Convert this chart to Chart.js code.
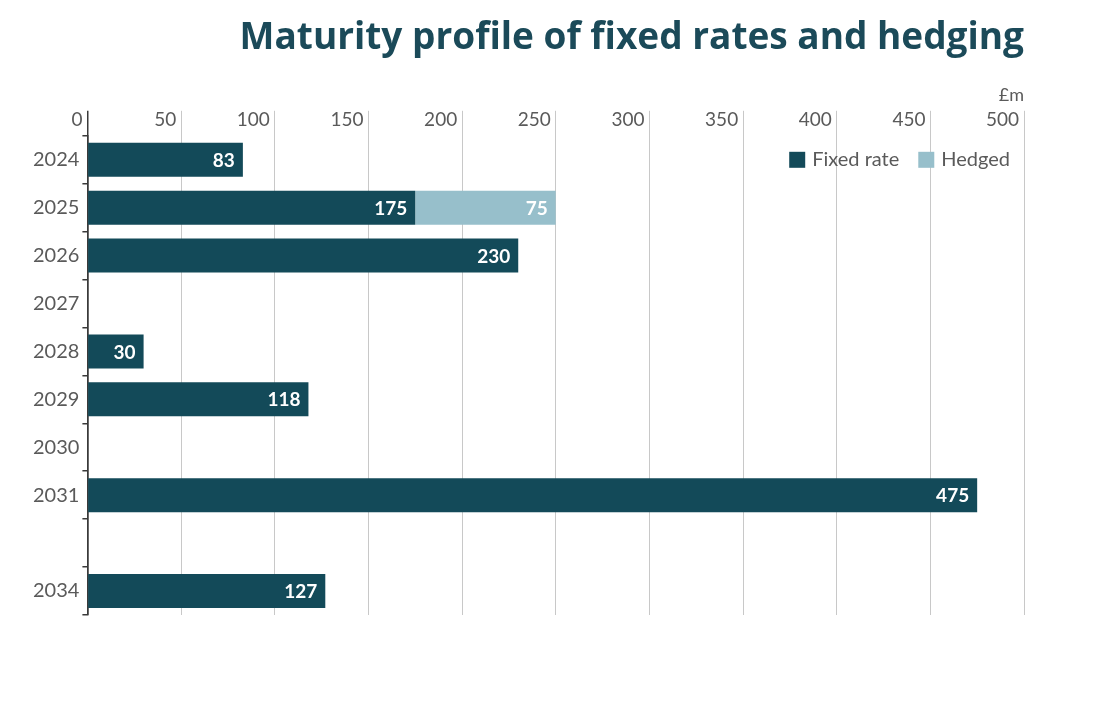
<!DOCTYPE html>
<html lang="en">
<head>
  <meta charset="UTF-8">
  <title>Maturity profile of fixed rates and hedging</title>
  <script src="https://cdn.jsdelivr.net/npm/chart.js"></script>
  <style>
    body {
      margin: 0;
      background: #fff;
    }
    .wrap {
      width: 1100px;
      height: 711px;
    }
  </style>
</head>
<body>
  <div class="wrap">
    <canvas id="maturityChart" width="1100" height="711"></canvas>
  </div>

  <script>
    const years = ['2024', '2025', '2026', '2027', '2028', '2029', '2030', '2031', '', '2034'];
    const fixedRate = [83, 175, 230, null, 30, 118, null, 475, null, 127];
    const hedged = [null, 75, null, null, null, null, null, null, null, null];
    const xTicks = [0, 50, 100, 150, 200, 250, 300, 350, 400, 450, 500];

    const darkTeal = '#134a59';
    const lightBlue = '#97bfcb';
    const labelGrey = '#5a5a5a';

    // white value labels at the right end of each bar
    const barValues = {
      id: 'barValues',
      afterDatasetsDraw(chart) {
        const ctx = chart.ctx;
        ctx.save();
        ctx.font = 'bold 19px Lato';
        ctx.fillStyle = '#ffffff';
        ctx.textAlign = 'right';
        ctx.textBaseline = 'middle';
        chart.data.datasets.forEach((ds, i) => {
          chart.getDatasetMeta(i).data.forEach((bar, j) => {
            const v = ds.data[j];
            if (v == null) return;
            ctx.fillText(v, bar.x - 8, bar.y + 1);
          });
        });
        ctx.restore();
      }
    };

    // legend drawn inside the plot, top right
    const insideLegend = {
      id: 'insideLegend',
      afterDraw(chart) {
        const ctx = chart.ctx;
        const area = chart.chartArea;
        ctx.save();
        ctx.font = '20px Lato';
        ctx.textBaseline = 'middle';
        const items = chart.data.datasets.map(ds => ({ text: ds.label, color: ds.backgroundColor }));
        let x = area.right - 14;
        const y = area.top + 24;
        for (let i = items.length - 1; i >= 0; i--) {
          const w = ctx.measureText(items[i].text).width;
          x -= w;
          ctx.fillStyle = labelGrey;
          ctx.textAlign = 'left';
          ctx.fillText(items[i].text, x, y);
          x -= 7 + 16;
          ctx.fillStyle = items[i].color;
          ctx.fillRect(x, y - 8, 16, 16);
          x -= 19;
        }
        ctx.restore();
      }
    };

    new Chart(document.getElementById('maturityChart'), {
      type: 'bar',
      data: {
        labels: years,
        datasets: [
          { label: 'Fixed rate', data: fixedRate, backgroundColor: darkTeal },
          { label: 'Hedged', data: hedged, backgroundColor: lightBlue }
        ]
      },
      options: {
        indexAxis: 'y',
        responsive: false,
        animation: false,
        layout: { padding: { left: 30, right: 76, top: 14, bottom: 96 } },
        datasets: {
          bar: { categoryPercentage: 1, barPercentage: 0.71 }
        },
        scales: {
          x: {
            position: 'top',
            stacked: true,
            min: 0,
            max: 500,
            afterBuildTicks: axis => { axis.ticks = xTicks.map(v => ({ value: v })); },
            border: { display: false },
            grid: {
              color: c => (c.tick && c.tick.value === 0) ? '#3a3a3a' : '#c8c8c8',
              lineWidth: c => (c.tick && c.tick.value === 0) ? 1.5 : 1,
              tickLength: 25
            },
            ticks: {
              align: 'end',
              padding: -20,
              color: labelGrey,
              font: { family: 'Lato', size: 19 },
              callback: v => v + ' '
            },
            title: {
              display: true,
              text: '£m',
              align: 'end',
              color: labelGrey,
              font: { family: 'Lato', size: 18 },
              padding: { top: 0, bottom: 22 }
            }
          },
          y: {
            stacked: true,
            border: { color: '#3a3a3a', width: 1.5 },
            grid: {
              drawOnChartArea: false,
              color: '#3a3a3a',
              lineWidth: 1.5,
              tickLength: 5
            },
            ticks: {
              padding: 3,
              color: labelGrey,
              font: { family: 'Lato', size: 20 }
            }
          }
        },
        plugins: {
          title: {
            display: true,
            text: 'Maturity profile of fixed rates and hedging',
            align: 'end',
            color: '#1b4a59',
            font: { family: 'Open Sans', size: 37, weight: 'bold' },
            padding: { top: 2, bottom: 24 }
          },
          legend: { display: false },
          tooltip: { enabled: false }
        }
      },
      plugins: [barValues, insideLegend]
    });
  </script>
</body>
</html>
